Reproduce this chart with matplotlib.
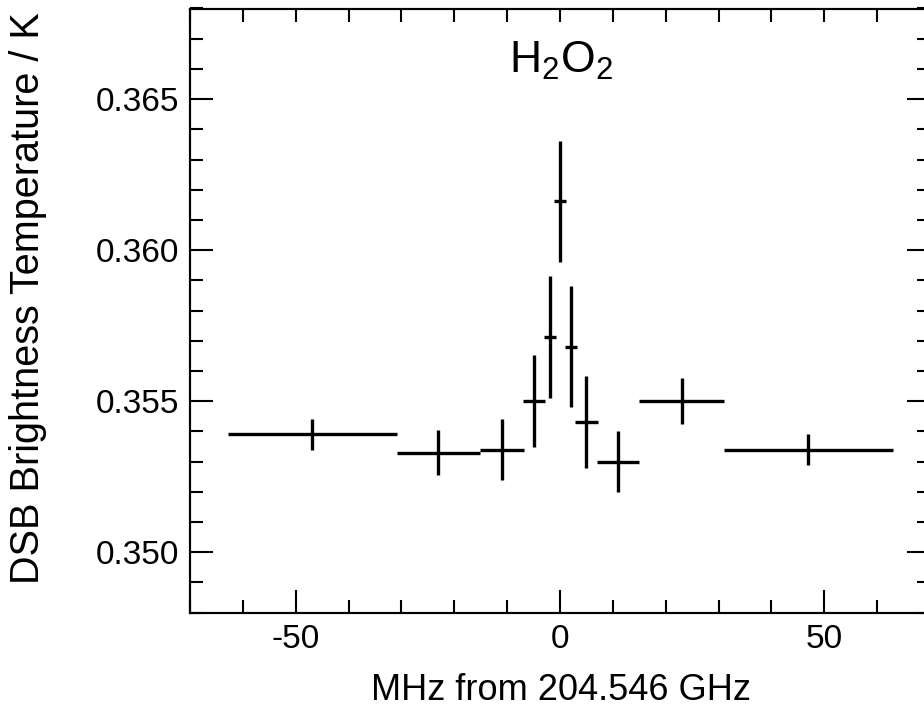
import matplotlib
matplotlib.use("Agg")
import matplotlib.pyplot as plt
from matplotlib.ticker import MultipleLocator, FormatStrFormatter

plt.rcParams['font.family'] = ['Liberation Sans', 'DejaVu Sans']
plt.rcParams['mathtext.fontset'] = 'custom'
plt.rcParams['mathtext.rm'] = 'Liberation Sans'
plt.rcParams['mathtext.it'] = 'Liberation Sans:italic'
plt.rcParams['axes.unicode_minus'] = False

# data (MHz offset, half-width, temperature K, error K)
freq = [-46.9, -23.0, -11.0, -4.9, -1.9, 0.0, 2.1, 5.0, 11.0, 23.0, 47.0]
freq_halfwidth = [16.0, 7.9, 4.1, 2.05, 1.13, 1.13, 1.13, 2.17, 4.03, 8.07, 16.0]
temp = [0.3539, 0.3533, 0.3534, 0.3550, 0.35712, 0.36162, 0.35681, 0.3543, 0.3530, 0.3550, 0.3534]
temp_err = [0.00052, 0.00075, 0.00100, 0.00152, 0.00201, 0.00200, 0.00201, 0.00152, 0.00100, 0.00076, 0.00052]

W, H = 924, 712
fig = plt.figure(figsize=(W / 100, H / 100), dpi=100)
left, right, bottom, top = 190, 930, 712 - 612.7, 712 - 8.5
ax = fig.add_axes([left / W, bottom / H, (right - left) / W, (top - bottom) / H])

ax.errorbar(freq, temp, xerr=freq_halfwidth, yerr=temp_err, fmt='none',
            ecolor='black', elinewidth=2.4, capsize=0)

ax.set_xlim(-70, 70)
ax.set_ylim(0.348, 0.368)

for s in ax.spines.values():
    s.set_linewidth(1.5)

ax.xaxis.set_major_locator(MultipleLocator(50))
ax.xaxis.set_minor_locator(MultipleLocator(10))
ax.yaxis.set_major_locator(MultipleLocator(0.005))
ax.yaxis.set_minor_locator(MultipleLocator(0.001))
ax.yaxis.set_major_formatter(FormatStrFormatter('%.3f'))

ax.tick_params(axis='both', which='both', direction='in', width=1.5, labelsize=24)
ax.tick_params(axis='x', which='both', top=False, bottom=True)
ax.tick_params(axis='y', which='both', left=True, right=True)
ax.tick_params(which='major', length=16.6, pad=8)
ax.tick_params(which='minor', length=9.4)

# top axis: all short ticks
axt = ax.twiny()
axt.set_xlim(ax.get_xlim())
axt.xaxis.set_major_locator(MultipleLocator(10))
axt.tick_params(axis='x', which='major', direction='in', length=9.4, width=1.5,
                labeltop=False, top=True)
for s in axt.spines.values():
    s.set_linewidth(1.5)

fig.text(561 / W, 1 - 61 / H, 'H$_2$O$_2$', ha='center', va='center', fontsize=32)
fig.text(561 / W, 1 - 690 / H, 'MHz from 204.546 GHz', ha='center', va='center', fontsize=26)
fig.text(28 / W, 1 - 298 / H, 'DSB Brightness Temperature / K', ha='center',
         va='center', rotation=90, fontsize=28.5)

fig.savefig('out.png', dpi=100)
